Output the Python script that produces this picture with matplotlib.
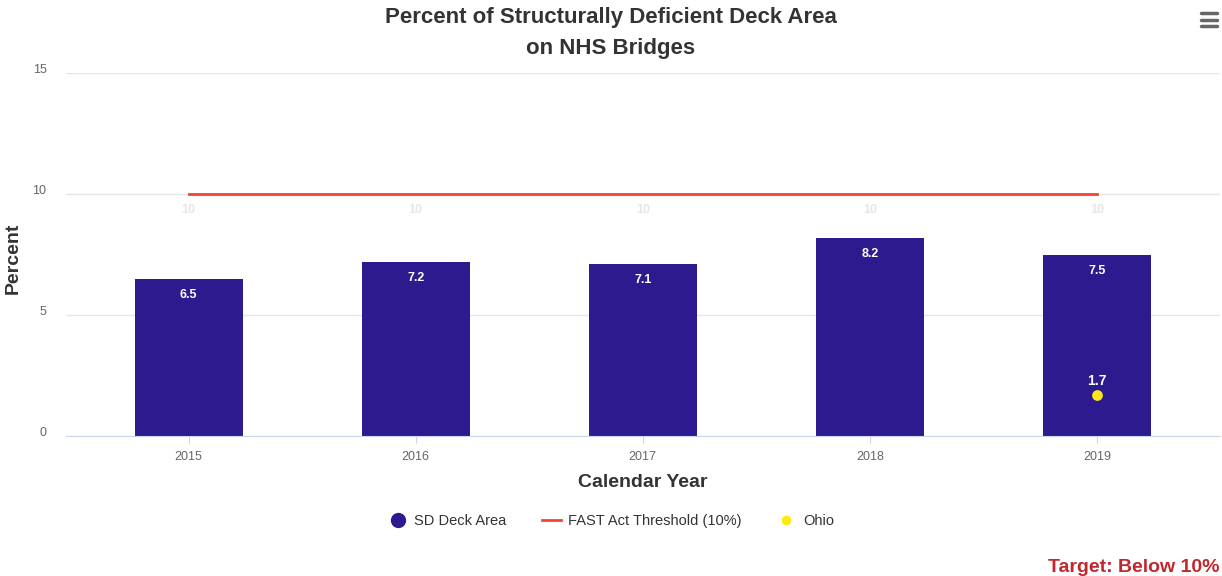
import matplotlib
matplotlib.use("Agg")
import matplotlib.pyplot as plt
from matplotlib.lines import Line2D

plt.rcParams['font.family'] = ['Liberation Sans', 'DejaVu Sans']

# data
years = ['2015', '2016', '2017', '2018', '2019']
sd_deck_area = [6.5, 7.2, 7.1, 8.2, 7.5]
threshold = [10, 10, 10, 10, 10]
ohio_year = ['2019']
ohio_value = [1.7]

bar_color = '#2e1a8f'
line_color = '#f44336'
ohio_color = '#ffe81a'

fig = plt.figure(figsize=(12.22, 5.76), dpi=100)
ax = fig.add_axes([0.054, 0.243, 0.944, 0.630])

x = list(range(len(years)))
bars = ax.bar(x, sd_deck_area, width=0.476, color=bar_color, zorder=2)
ax.plot(x, threshold, color=line_color, lw=2, zorder=3)

# data labels
for xi, v in zip(x, sd_deck_area):
    ax.annotate(f'{v}', (xi, v), xytext=(0, -16), textcoords='offset points',
                ha='center', va='bottom', color='white', fontsize=9, fontweight='bold', zorder=5)
for xi, v in zip(x, threshold):
    ax.annotate(f'{v}', (xi, v), xytext=(0, -16), textcoords='offset points',
                ha='center', va='bottom', color='#e6e6e6', fontsize=9, fontweight='bold', zorder=5)

ox = [years.index(y) for y in ohio_year]
ax.scatter(ox, ohio_value, s=45, color=ohio_color, zorder=4)
for xi, v in zip(ox, ohio_value):
    ax.annotate(f'{v}', (xi, v), xytext=(0, 5), textcoords='offset points',
                ha='center', va='bottom', color='white', fontsize=10, fontweight='bold', zorder=5)

ax.set_xlim(-0.54, 4.54)
ax.set_ylim(0, 15)
ax.set_yticks([0, 5, 10, 15])
ax.set_xticks(x)
ax.set_xticklabels(years)
ax.grid(axis='y', color='#e6e6e6', lw=1, zorder=0)
ax.set_axisbelow(True)
for s in ['top', 'right', 'left']:
    ax.spines[s].set_visible(False)
ax.spines['bottom'].set_color('#ccd6eb')
ax.tick_params(axis='y', length=0, pad=14, labelcolor='#666666', labelsize=9)
ax.tick_params(axis='x', length=5, color='#ccd6eb', pad=6, labelcolor='#666666', labelsize=9)
for lbl in ax.get_yticklabels():
    lbl.set_verticalalignment('baseline')

ax.set_xlabel('Calendar Year', fontsize=14, fontweight='bold', color='#333333', labelpad=8)
ax.set_ylabel('Percent', fontsize=14, fontweight='bold', color='#333333')
ax.yaxis.set_label_coords(-0.038, 0.49)

fig.text(0.5, 0.988, 'Percent of Structurally Deficient Deck Area\non NHS Bridges',
         ha='center', va='top', fontsize=16, fontweight='bold', color='#333333', linespacing=1.6)

# legend
handles = [
    Line2D([], [], marker='o', ls='none', markersize=10, color=bar_color),
    Line2D([], [], color=line_color, lw=2),
    Line2D([], [], marker='o', ls='none', markersize=6, color=ohio_color),
]
fig.legend(handles, ['SD Deck Area', 'FAST Act Threshold (10%)', 'Ohio'],
           loc='center', bbox_to_anchor=(0.5, 0.095), ncol=3, frameon=False,
           fontsize=10.5, labelcolor='#333333', handlelength=1.3, handletextpad=0.5,
           columnspacing=2.4)

fig.text(0.998, 0.0, 'Target: Below 10%', ha='right', va='bottom',
         fontsize=14, fontweight='bold', color='#c0282d')

# menu icon
for yy in [0.977, 0.966, 0.955]:
    fig.add_artist(Line2D([0.9825, 0.996], [yy, yy], color='#666666', lw=2.5,
                          solid_capstyle='round', transform=fig.transFigure))

fig.savefig('out.png', dpi=100)
